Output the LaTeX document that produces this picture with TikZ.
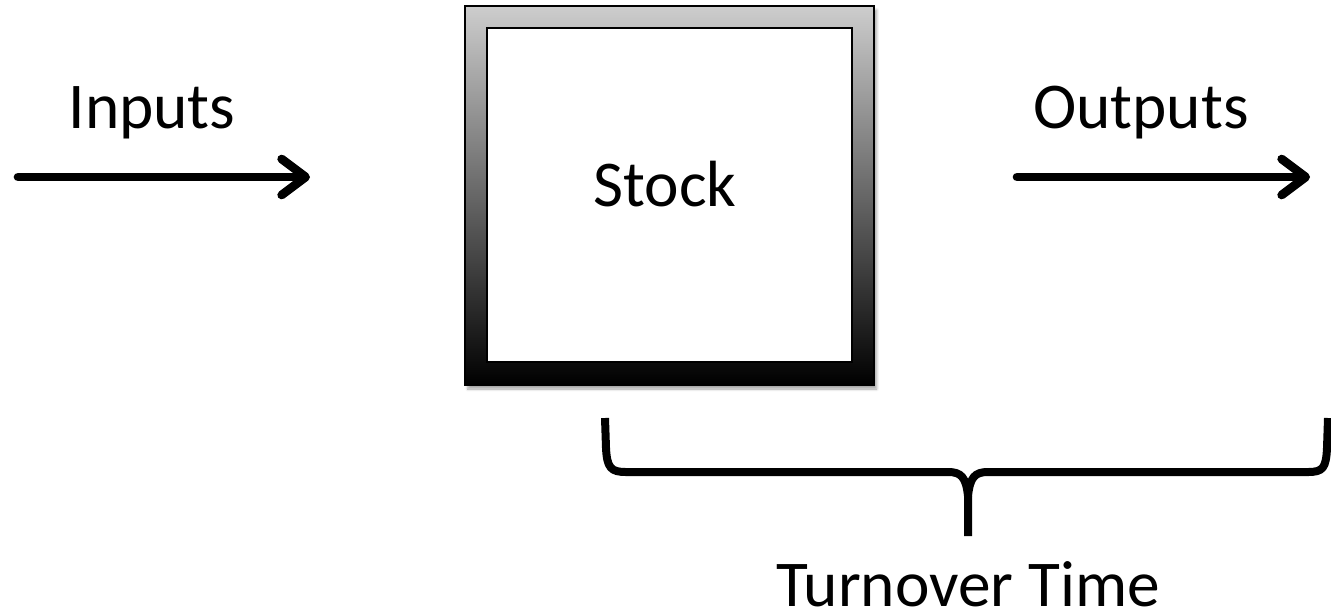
\documentclass[tikz,border=0pt]{standalone}
\usepackage{fontspec}
\setmainfont{Carlito}
\usetikzlibrary{arrows.meta,shadows.blur}

\tikzset{
  flow/.style={line width=6.5pt, line cap=round,
    -{Straight Barb[length=18pt, width=27pt, line cap=round, line join=round]}},
  label/.style={font=\fontsize{49}{58}\selectfont, inner sep=0pt, anchor=base},
  bracket/.style={line width=6pt, line cap=butt, line join=round},
}

\begin{document}
\begin{tikzpicture}[x=0.75pt, y=-0.75pt]
  \useasboundingbox (0,0) rectangle (1331,612);

  % stock: gradient frame with a white inner square
  \path[blur shadow={shadow xshift=2pt, shadow yshift=-3pt, shadow opacity=35, shadow blur steps=6},
        top color={rgb,255:red,205;green,205;blue,205}, bottom color=black, draw=black, line width=1pt]
    (465,6) rectangle (874,385);
  \node[draw=black, fill=white, line width=1.2pt, minimum width=365*0.75pt,
        minimum height=334*0.75pt, inner sep=0pt] (stock) at (669.5,195) {};
  \node[label] (stocklbl) at (665,206) {Stock};

  % flows in and out
  \coordinate (inA) at (18,177);
  \coordinate (inB) at (310,177);
  \coordinate (outA) at (1017,177);
  \coordinate (outB) at (1310,177);
  \draw[flow] (inA) -- (inB);
  \draw[flow] (outA) -- (outB);
  \node[label] (inlbl) at (152,128) {Inputs};
  \node[label] (outlbl) at (1141,128) {Outputs};

  % brace spanning the residence interval
  \coordinate (bL) at (605,418);
  \coordinate (bM) at (968,536);
  \coordinate (bR) at (1328,418);
  \draw[bracket] (bL) -- (606,448) .. controls (607,468) and (611,472) .. (626,472)
    -- (948,472) .. controls (961,472) and (966,477) .. (968,496) -- (bM);
  \draw[bracket] (968,496) .. controls (970,477) and (975,472) .. (988,472)
    -- (1308,472) .. controls (1323,472) and (1326,468) .. (1327,448) -- (bR);
  \node[label] (turnlbl) at (968,606) {Turnover Time};
\end{tikzpicture}
\end{document}
